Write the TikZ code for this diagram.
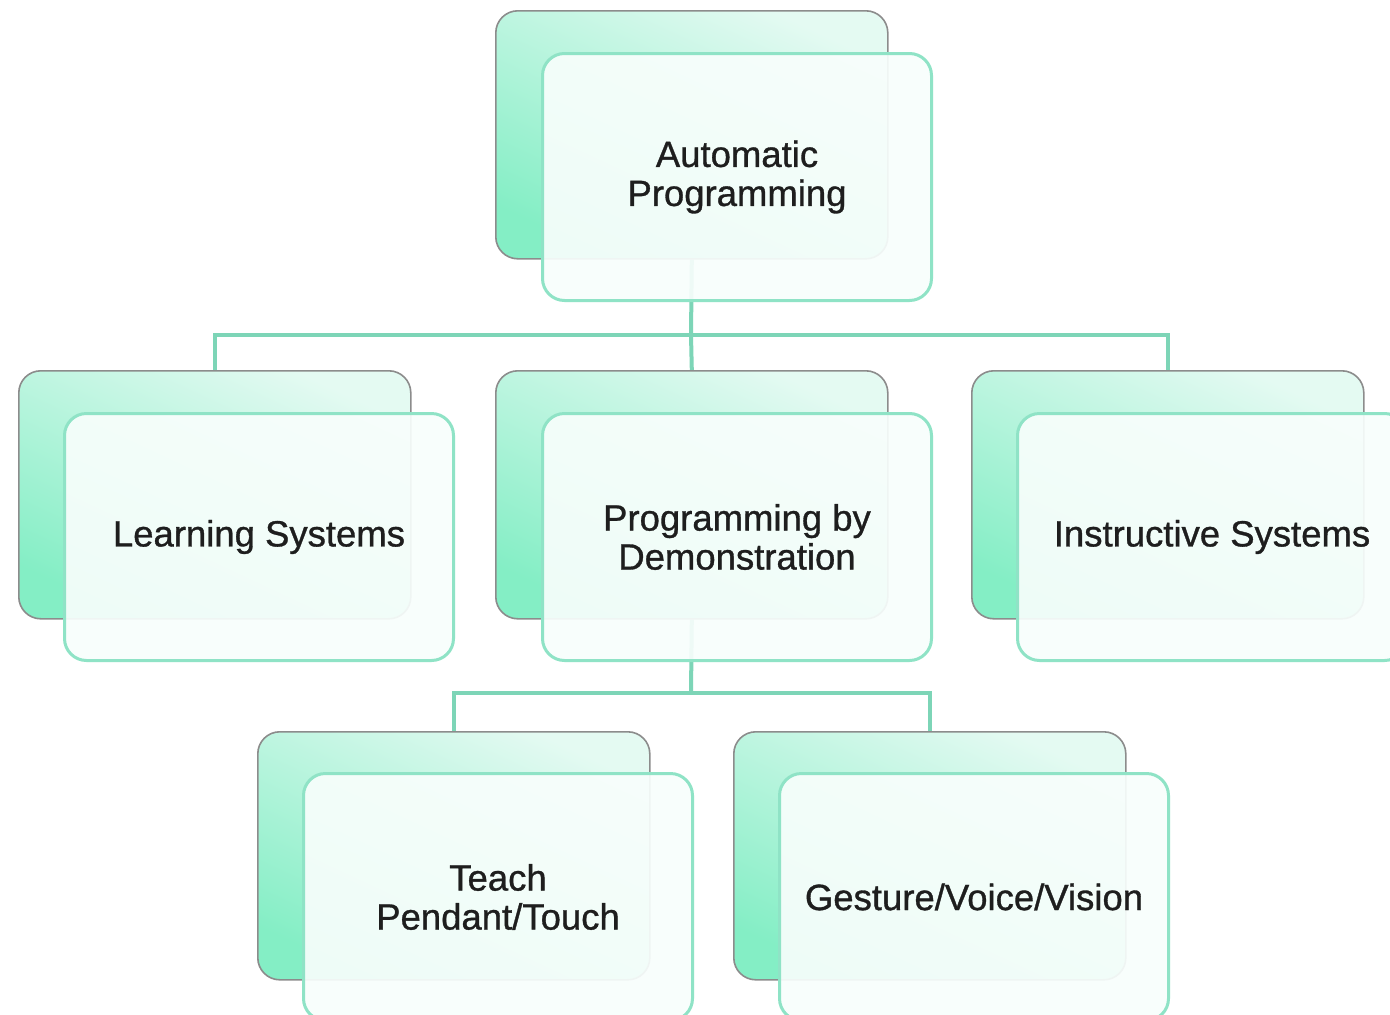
\documentclass[tikz,border=0pt]{standalone}
\usepackage{fontspec}
\setmainfont{Liberation Sans}
\newfontfamily\boxfont[FakeBold=0.9]{Liberation Sans}
\usetikzlibrary{backgrounds}
\definecolor{mintline}{HTML}{7DD5B7}
\definecolor{mintborder}{HTML}{8FE3C6}
\definecolor{mintlight}{HTML}{E4FAF2}
\definecolor{mintdeep}{HTML}{84EEC5}
\definecolor{frontfill}{HTML}{F8FEFC}
\definecolor{backedge}{HTML}{8C8C8C}
\definecolor{txt}{HTML}{1E1E1E}
\tikzset{
  backbox/.style={rectangle, rounded corners=22pt, draw=backedge, line width=1.6pt,
    top color=mintlight, bottom color=mintdeep, shading angle=-25,
    minimum width=392pt, minimum height=248pt, anchor=north west, inner sep=0pt},
  frontbox/.style={rectangle, rounded corners=22pt, draw=mintborder, line width=3pt,
    fill=frontfill, fill opacity=0.92, text opacity=1,
    minimum width=389pt, minimum height=247pt, anchor=north west,
    align=center, text=txt, font=\boxfont\fontsize{36.5}{39}\selectfont},
  link/.style={draw=mintline, line width=4pt}
}
\begin{document}
\begin{tikzpicture}[x=1pt,y=-1pt]
\useasboundingbox (0,0) rectangle (1390,1015);
\clip (0,0) rectangle (1390,1015);

% level 1
\node[backbox] (apb) at (495,10) {};
\node[frontbox] (ap) at (541,52) {Automatic\\Programming};

% level 2
\node[backbox] (lsb) at (18,370) {};
\node[frontbox] (ls) at (63,412) {Learning Systems};
\node[backbox] (pdb) at (495,370) {};
\node[frontbox] (pd) at (541,412) {Programming by\\Demonstration};
\node[backbox] (isb) at (971,370) {};
\node[frontbox] (is) at (1016,412) {Instructive Systems};

% level 3
\node[backbox] (tpb) at (257,731) {};
\node[frontbox] (tp) at (302,772) {Teach\\Pendant/Touch};
\node[backbox] (gvb) at (733,731) {};
\node[frontbox] (gv) at (778,772) {Gesture/Voice/Vision};

\coordinate (bus1) at (691,335);
\coordinate (bus2) at (691,693);

\begin{scope}[on background layer]
\fill[white] (0,0) rectangle (1390,1015);
\draw[link] (apb.south) -- (bus1);
\draw[link] (bus1) -| (lsb.north);
\draw[link] (bus1) -- (pdb.north);
\draw[link] (bus1) -| (isb.north);
\draw[link] (pdb.south) -- (bus2);
\draw[link] (bus2) -| (tpb.north);
\draw[link] (bus2) -| (gvb.north);
\end{scope}
\end{tikzpicture}
\end{document}
